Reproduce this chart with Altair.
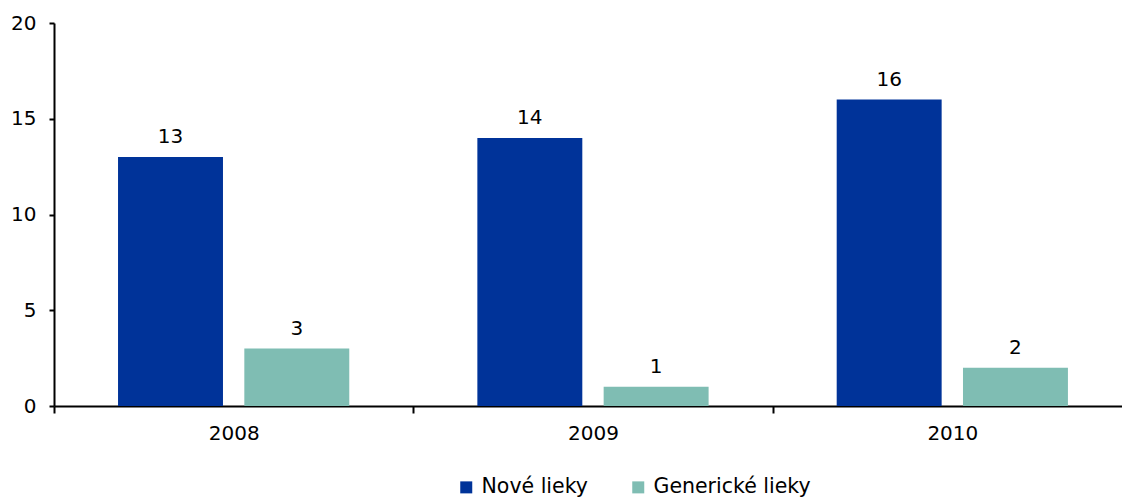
import altair as alt
import pandas as pd

# Number of newly registered medicines per year, split by type
years = ["2008", "2009", "2010"]
series = ["Nové lieky", "Generické lieky"]
nove = [13, 14, 16]
genericke = [3, 1, 2]
colors = ["#003399", "#7FBDB3"]

rows = []
for i, y in enumerate(years):
    rows.append({"rok": y, "typ": series[0], "pocet": nove[i]})
    rows.append({"rok": y, "typ": series[1], "pocet": genericke[i]})
df = pd.DataFrame(rows)

FONT = "DejaVu Sans"
FS = 20

x = alt.X(
    "rok:N",
    sort=years,
    title=None,
    scale=alt.Scale(range=[0, 1078], paddingInner=0, paddingOuter=0),
    axis=alt.Axis(
        labelAngle=0,
        tickBand="extent",
        tickSize=7,
        tickColor="black",
        tickWidth=2,
        domainColor="black",
        domainWidth=2,
        labelFont=FONT,
        labelFontSize=FS,
        labelColor="black",
        labelPadding=10,
        grid=False,
    ),
)
xo = alt.XOffset(
    "typ:N",
    sort=series,
    scale=alt.Scale(range=[0, 359.3], paddingInner=0.169, paddingOuter=0.507),
)
y = alt.Y(
    "pocet:Q",
    title=None,
    scale=alt.Scale(domain=[0, 20], nice=False),
    axis=alt.Axis(
        values=[0, 5, 10, 15, 20],
        tickSize=5,
        tickColor="black",
        tickWidth=2,
        domainColor="black",
        domainWidth=2,
        labelFont=FONT,
        labelFontSize=FS,
        labelColor="black",
        labelPadding=13,
        grid=False,
    ),
)
color = alt.Color(
    "typ:N",
    sort=series,
    scale=alt.Scale(domain=series, range=colors),
    legend=alt.Legend(
        title=None,
        orient="none",
        direction="horizontal",
        legendX=402,
        legendY=454,
        symbolType="square",
        symbolSize=144,
        symbolStrokeWidth=0,
        labelFont=FONT,
        labelFontSize=20.5,
        labelColor="black",
        labelOffset=5,
        columnPadding=40,
        padding=0,
    ),
)

bars = alt.Chart(df).mark_bar().encode(x=x, xOffset=xo, y=y, color=color)
labels = alt.Chart(df).mark_text(
    font=FONT, fontSize=FS, color="black", baseline="alphabetic", dy=-14
).encode(x=x, xOffset=xo, y=y, text="pocet:Q")

chart = (
    alt.layer(bars, labels)
    .properties(
        width=1068,
        height=383,
        autosize=alt.AutoSizeParams(type="none"),
        padding={"left": 54, "top": 23, "right": 0, "bottom": 95},
        background="white",
    )
    .configure_view(stroke=None)
)

chart.save("out.html", embed_options={"renderer": "svg", "actions": False})
